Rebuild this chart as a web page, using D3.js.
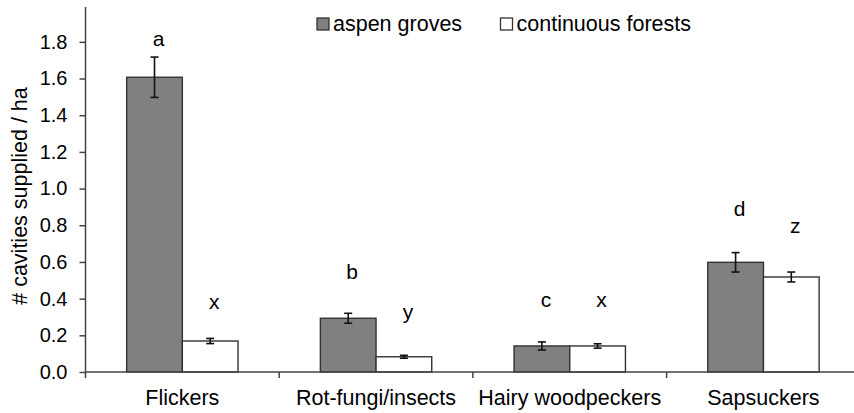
<!DOCTYPE html>
<html>
<head>
<meta charset="utf-8">
<script src="https://cdn.jsdelivr.net/npm/d3@7"></script>
<style>
  body { margin: 0; background: #fff; }
  text { font-family: Arial, "Liberation Sans", sans-serif; fill: #000; }
</style>
</head>
<body>
<svg id="chart" width="854" height="413"></svg>
<script>
const categories = ["Flickers", "Rot-fungi/insects", "Hairy woodpeckers", "Sapsuckers"]
const seriesNames = ["aspen groves", "continuous forests"]

const aspen = [1.607, 0.293, 0.142, 0.598]
const aspenErr = [0.11, 0.027, 0.022, 0.053]
const forest = [0.169, 0.083, 0.142, 0.518]
const forestErr = [0.014, 0.008, 0.012, 0.027]

// significance letters and the height (in data units) of their baseline
const aspenLetters = ["a", "b", "c", "d"]
const aspenLetterY = [1.78, 0.508, 0.355, 0.851]
const forestLetters = ["x", "y", "x", "z"]
const forestLetterY = [0.344, 0.29, 0.355, 0.758]

const yTicks = [0, 0.2, 0.4, 0.6, 0.8, 1.0, 1.2, 1.4, 1.6, 1.8]

let margin = { left: 85.5, top: 7, bottom: 372 }

let svg = d3.select("#chart")

let y = d3.scaleLinear()
  .domain([0, 1.99])
  .range([margin.bottom, margin.top])

// band scale extends past the right edge, as in the cropped original
let x = d3.scaleBand()
  .domain(categories)
  .range([margin.left, margin.left + 4 * 193.7])
  .paddingInner(0.425)
  .paddingOuter(0.2125)

let xs = d3.scaleBand()
  .domain(seriesNames)
  .range([0, x.bandwidth()])

let rows = categories.map(function(c, i) {
  return [
    { cat: c, s: seriesNames[0], v: aspen[i], e: aspenErr[i], l: aspenLetters[i], ly: aspenLetterY[i], fill: "#808080" },
    { cat: c, s: seriesNames[1], v: forest[i], e: forestErr[i], l: forestLetters[i], ly: forestLetterY[i], fill: "#ffffff" }
  ]
}).flat()

// bars
svg.append("g")
  .selectAll("rect")
  .data(rows)
  .enter()
  .append("rect")
  .attr("x", d => x(d.cat) + xs(d.s))
  .attr("y", d => y(d.v))
  .attr("width", xs.bandwidth())
  .attr("height", d => y(0) - y(d.v))
  .attr("fill", d => d.fill)
  .attr("stroke", "#333")
  .attr("stroke-width", 1.4)

// error bars
let eb = svg.append("g")
  .attr("stroke", "#111")
  .attr("stroke-width", 1.6)
  .selectAll("g")
  .data(rows)
  .enter()
  .append("g")
  .attr("transform", d => "translate(" + (x(d.cat) + xs(d.s) + xs.bandwidth() / 2) + ",0)")

eb.append("line")
  .attr("y1", d => y(d.v + d.e))
  .attr("y2", d => y(d.v - d.e))
eb.append("line")
  .attr("x1", -4).attr("x2", 4)
  .attr("y1", d => y(d.v + d.e))
  .attr("y2", d => y(d.v + d.e))
eb.append("line")
  .attr("x1", -4).attr("x2", 4)
  .attr("y1", d => y(d.v - d.e))
  .attr("y2", d => y(d.v - d.e))

// letters
svg.append("g")
  .selectAll("text")
  .data(rows)
  .enter()
  .append("text")
  .attr("x", d => x(d.cat) + xs(d.s) + xs.bandwidth() / 2 + 4)
  .attr("y", d => y(d.ly))
  .attr("text-anchor", "middle")
  .attr("font-size", 21)
  .text(d => d.l)

// y axis
let yAxis = d3.axisLeft(y)
  .tickValues(yTicks)
  .tickFormat(d3.format(".1f"))
  .tickSize(6)
  .tickPadding(12)
  .tickSizeOuter(0)

let ya = svg.append("g")
  .attr("transform", "translate(" + margin.left + ",0)")
  .call(yAxis)
ya.select(".domain").attr("stroke", "#444").attr("stroke-width", 1.5)
  .attr("d", "M0," + margin.top + "V" + (margin.bottom + 6))
ya.selectAll(".tick line").attr("stroke", "#444").attr("stroke-width", 1.5)
ya.selectAll(".tick text")
  .attr("font-size", 20)
  .attr("font-family", "Arial, 'Liberation Sans', sans-serif")
  .attr("fill", "#000")

// x axis with ticks between categories
let bounds = [1, 2, 3, 4].map(i => margin.left + i * 193.7)
let xa = svg.append("g")
xa.append("line")
  .attr("x1", margin.left).attr("x2", 854)
  .attr("y1", y(0)).attr("y2", y(0))
  .attr("stroke", "#444").attr("stroke-width", 1.5)
xa.selectAll(".btick")
  .data(bounds)
  .enter()
  .append("line")
  .attr("x1", d => d).attr("x2", d => d)
  .attr("y1", y(0)).attr("y2", y(0) + 6)
  .attr("stroke", "#444").attr("stroke-width", 1.5)
xa.selectAll(".lbl")
  .data(categories)
  .enter()
  .append("text")
  .attr("x", d => x(d) + x.bandwidth() / 2)
  .attr("y", 405)
  .attr("text-anchor", "middle")
  .attr("font-size", 21.5)
  .text(d => d)

// y axis title
svg.append("text")
  .attr("transform", "translate(27," + 196 + ") rotate(-90)")
  .attr("text-anchor", "middle")
  .attr("font-size", 21.5)
  .text("# cavities supplied / ha")

// legend
let legendX = [317, 500.5]
let leg = svg.append("g")
  .selectAll("g")
  .data(seriesNames)
  .enter()
  .append("g")
  .attr("transform", (d, i) => "translate(" + legendX[i] + ",18)")
leg.append("rect")
  .attr("width", 12).attr("height", 12)
  .attr("fill", (d, i) => i === 0 ? "#808080" : "#fff")
  .attr("stroke", "#333").attr("stroke-width", 1.3)
leg.append("text")
  .attr("x", 16)
  .attr("y", 13)
  .attr("font-size", 21.5)
  .text(d => d)
</script>
</body>
</html>
